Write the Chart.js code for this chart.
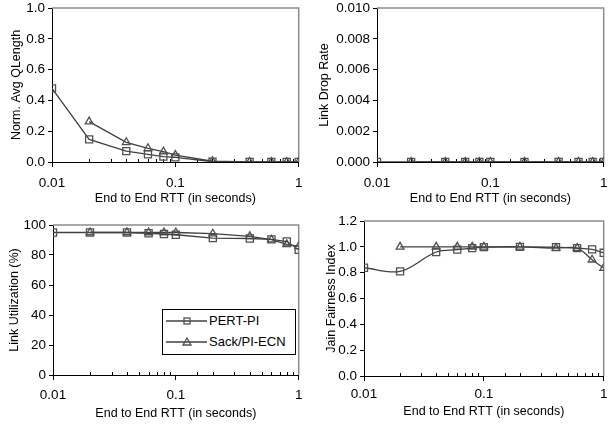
<!DOCTYPE html>
<html>
<head>
<meta charset="utf-8">
<script src="https://cdn.jsdelivr.net/npm/chart.js@4/dist/chart.umd.min.js"></script>
<style>
  html, body { margin: 0; padding: 0; background: #fff; }
  #wrap { position: relative; width: 610px; height: 424px; overflow: hidden; }
  canvas { position: absolute; }
  #legend { position: absolute; left: 162px; top: 309px; width: 134px; height: 46px;
    border: 1px solid #000; background: #fff; box-sizing: border-box;
    font: 13px "Liberation Sans", Arial, sans-serif; color: #000; }
  #legend .row { position: absolute; left: 2px; height: 16px; line-height: 16px; white-space: nowrap; }
  #legend svg { vertical-align: top; }
  #legend span { position: absolute; left: 44px; top: 0; }
</style>
</head>
<body>
<div id="wrap">
  <canvas id="c1" width="305" height="212" style="left:0;top:0"></canvas>
  <canvas id="c2" width="305" height="212" style="left:305px;top:0"></canvas>
  <canvas id="c3" width="305" height="212" style="left:0;top:212px"></canvas>
  <canvas id="c4" width="305" height="212" style="left:305px;top:212px"></canvas>
  <div id="legend">
    <div class="row" style="top:3px">
      <svg width="42" height="16"><line x1="1" y1="8" x2="42" y2="8" stroke="#404040" stroke-width="1.3"/><rect x="19" y="5" width="6" height="6" fill="none" stroke="#505050" stroke-width="1.3"/></svg><span>PERT-PI</span>
    </div>
    <div class="row" style="top:24px">
      <svg width="42" height="16"><line x1="1" y1="8" x2="42" y2="8" stroke="#404040" stroke-width="1.3"/><polygon points="22,4 26,11 18,11" fill="none" stroke="#505050" stroke-width="1.3"/></svg><span>Sack/PI-ECN</span>
    </div>
  </div>
</div>
<script>
var rtt = [0.01, 0.02, 0.04, 0.06, 0.08, 0.1, 0.2, 0.4, 0.6, 0.8, 1];
var seriesNames = ['PERT-PI', 'Sack/PI-ECN'];

var qlenPert = [0.478, 0.147, 0.071, 0.05, 0.035, 0.03, 0.002, 0, 0, 0, 0];
var qlenSack = [null, 0.262, 0.128, 0.089, 0.067, 0.045, 0.005, 0, 0, 0, 0];

var dropPert = [0, 0, 0, 0, 0, 0, 0, 0, 0, 0, 0];
var dropSack = [null, 0, 0, 0, 0, 0, 0, 0, 0, 0, 0];

var utilPert = [95, 95, 95, 94.5, 94, 93.5, 91.3, 91, 90.4, 89, 83.5];
var utilSack = [null, 95, 95, 95, 95, 95, 94.2, 92.4, 90.2, 87.1, 85.8];

var jainPert = [0.838, 0.81, 0.96, 0.978, 0.99, 0.998, 1.0, 0.998, 0.99, 0.98, 0.954];
var jainSack = [null, 1.0, 1.0, 1.0, 1.0, 1.0, 1.0, 0.99, 0.99, 0.90, 0.836];

var FONT = '"Liberation Sans", Arial, sans-serif';

function isMajor(v){ var l = Math.log10(v); return Math.abs(l - Math.round(l)) < 1e-6; }

function pts(ys){
  var out = [];
  for (var i = 0; i < rtt.length; i++) if (ys[i] !== null) out.push({ x: rtt[i], y: ys[i] });
  return out;
}

var framePlugin = {
  id: 'frame',
  beforeDatasetsDraw: function(chart){
    var ctx = chart.ctx, a = chart.chartArea, x = chart.scales.x;
    ctx.save();
    ctx.strokeStyle = '#8c8c8c'; ctx.lineWidth = 1.5;
    ctx.beginPath();
    ctx.moveTo(a.left, a.top); ctx.lineTo(a.right, a.top); ctx.lineTo(a.right, a.bottom);
    ctx.stroke();
    ctx.strokeStyle = '#000'; ctx.lineWidth = 1;
    ctx.beginPath();
    x.ticks.forEach(function(t){
      if (isMajor(t.value)) return;
      var px = Math.round(x.getPixelForValue(t.value)) + 0.5;
      ctx.moveTo(px, a.bottom); ctx.lineTo(px, a.bottom - 3);
    });
    ctx.stroke();
    ctx.restore();
  }
};

function makeChart(id, o){
  var ds = function(label, ys, style, r){
    return {
      label: label, data: pts(ys),
      borderColor: '#404040', borderWidth: 1.3,
      pointStyle: style, pointRadius: r, pointHoverRadius: r,
      pointBorderColor: '#505050', pointBorderWidth: 1.3,
      pointBackgroundColor: 'rgba(255,255,255,0)',
      tension: o.tension || 0
    };
  };
  return new Chart(document.getElementById(id), {
    type: 'line',
    data: { datasets: [ds(seriesNames[0], o.a, 'rect', 5), ds(seriesNames[1], o.b, 'triangle', 4.5)] },
    options: {
      responsive: false, animation: false, events: [],
      layout: { padding: { top: o.top, right: o.right, left: 0, bottom: 0 } },
      plugins: { legend: { display: false }, tooltip: { enabled: false } },
      scales: {
        x: {
          type: 'logarithmic', min: 0.01, max: 1,
          afterFit: function(s){ s.height = o.xh; s.paddingLeft = 0; s.paddingRight = 0; },
          border: { color: '#000', width: 1 },
          grid: { drawOnChartArea: false, tickLength: 5,
            tickColor: function(c){ return c.tick && isMajor(c.tick.value) ? '#000' : 'rgba(0,0,0,0)'; } },
          ticks: { autoSkip: false, maxRotation: 0, minRotation: 0, padding: o.xtp, color: '#000',
            font: { family: FONT, size: 13.5 },
            callback: function(v){ return isMajor(v) ? String(Number(v.toPrecision(3))) : ''; } },
          title: { display: true, text: 'End to End RTT (in seconds)', color: '#000',
            font: { family: FONT, size: 12.5 }, padding: { top: 0, bottom: o.xtt } }
        },
        y: {
          min: 0, max: o.max,
          afterFit: function(s){ s.width = o.yw; s.paddingTop = 0; s.paddingBottom = 0; },
          border: { color: '#000', width: 1 },
          grid: { drawOnChartArea: false, tickLength: 4, tickColor: '#000' },
          ticks: { stepSize: o.step, padding: 3, color: '#000', font: { family: FONT, size: 13.5 },
            callback: function(v){ return v.toFixed(o.dec); } },
          title: { display: true, text: o.ytitle, color: '#000',
            font: { family: FONT, size: 12.5 }, padding: { top: o.ytt, bottom: 0 } }
        }
      }
    },
    plugins: [framePlugin]
  });
}

makeChart('c1', { a: qlenPert, b: qlenSack, max: 1, step: 0.2, dec: 1, ytitle: 'Norm. Avg QLength',
  top: 8, right: 5, yw: 52, xh: 50, xtp: 8, xtt: 5.5, ytt: 9.5 });
makeChart('c2', { a: dropPert, b: dropSack, max: 0.01, step: 0.002, dec: 3, ytitle: 'Link Drop Rate',
  top: 8, right: 3, yw: 72, xh: 50, xtp: 8, xtt: 5.5, ytt: 12.5 });
makeChart('c3', { a: utilPert, b: utilSack, max: 100, step: 20, dec: 0, ytitle: 'Link Utilization (%)',
  top: 13, right: 4, yw: 53, xh: 49, xtp: 7, xtt: 2.5, ytt: 7.5 });
makeChart('c4', { a: jainPert, b: jainSack, max: 1.2, step: 0.2, dec: 1, ytitle: 'Jain Fairness Index',
  top: 9, right: 2, yw: 59, xh: 48, xtp: 5, xtt: 4.5, ytt: 19.5, tension: 0.35 });
</script>
</body>
</html>
